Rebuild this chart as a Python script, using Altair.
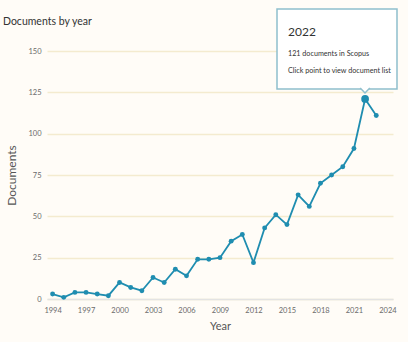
import altair as alt
import pandas as pd

years = list(range(1994, 2024))
docs = [3, 1, 4, 4, 3, 2, 10, 7, 5, 13, 10, 18, 14, 24, 24, 25, 35, 39, 22, 43,
        51, 45, 63, 56, 70, 75, 80, 91, 121, 111]
x_ticks = [1994, 1997, 2000, 2003, 2006, 2009, 2012, 2015, 2018, 2021, 2024]
y_ticks = [0, 25, 50, 75, 100, 125, 150]
chart_title = "Documents by year"
hover_year = 2022
hover_lines = ["2022", "121 documents in Scopus", "Click point to view document list"]

LINE = "#1f8db0"
FONT = "Lato"

df = pd.DataFrame({"year": years, "docs": docs})
one = pd.DataFrame({"k": [0]})

x_enc = alt.X("year:Q",
              scale=alt.Scale(domain=[1993.5, 2024.5], nice=False, zero=False),
              axis=alt.Axis(values=x_ticks, format="d", title="Year", grid=False,
                            ticks=False, labelPadding=7, domainColor="#e3e3e3",
                            domainWidth=1.5, labelFontSize=7.5, labelColor="#6b6b6b",
                            labelOverlap=False, labelFlush=False, labelBound=False,
                            labelFont=FONT, titleFont=FONT, titleFontSize=11,
                            titleFontWeight="normal", titleColor="#555",
                            titleBaseline="middle", titleX=173, titleY=27))
y_enc = alt.Y("docs:Q",
              scale=alt.Scale(domain=[0, 150], nice=False),
              axis=alt.Axis(values=y_ticks, title="Documents", ticks=False,
                            domain=False, labelPadding=6, gridColor="#f4ebcf",
                            gridWidth=1.5, labelFontSize=7.5, labelColor="#6b6b6b",
                            labelOverlap=False,
                            labelFont=FONT, titleFont=FONT, titleFontSize=12,
                            titleFontWeight="normal", titleColor="#555",
                            titleAngle=-90, titleAlign="center",
                            titleBaseline="middle", titleX=-36, titleY=124))

base = alt.Chart(df).encode(x=x_enc, y=y_enc)
line = base.mark_line(color=LINE, strokeWidth=1.8)
pts = base.mark_point(filled=True, color=LINE, size=24, opacity=1)
hover_pt = base.mark_point(filled=True, color=LINE, size=60, opacity=1).transform_filter(
    alt.datum.year == hover_year)

box = alt.Chart(one).mark_rect(fill="white", stroke="#8fbfcd", strokeWidth=1.5).encode(
    x=alt.value(230), x2=alt.value(350), y=alt.value(-42), y2=alt.value(38))
notch = alt.Chart(one).mark_point(
    shape="M-1.2,-1.25L0,0L1.2,-1.25", fill="white", fillOpacity=1,
    stroke="#8fbfcd", strokeWidth=1.5, size=64, opacity=1).encode(
    x=alt.value(318), y=alt.value(42))

t1 = alt.Chart(one).mark_text(text=hover_lines[0], align="left", baseline="alphabetic",
                              font=FONT, fontSize=12, color="#333").encode(
    x=alt.value(241), y=alt.value(-15))
t2 = alt.Chart(one).mark_text(text=hover_lines[1], align="left", baseline="alphabetic",
                              font=FONT, fontSize=7.2, color="#333").encode(
    x=alt.value(241), y=alt.value(5))
t3 = alt.Chart(one).mark_text(text=hover_lines[2], align="left", baseline="alphabetic",
                              font=FONT, fontSize=7.2, color="#333").encode(
    x=alt.value(241), y=alt.value(22))
title = alt.Chart(one).mark_text(text=chart_title, align="left", baseline="alphabetic",
                                 font=FONT, fontSize=10.5, color="#333").encode(
    x=alt.value(-44), y=alt.value(-26))

chart = alt.layer(line, pts, hover_pt, box, notch, t1, t2, t3, title).properties(
    width=346, height=248,
    padding={"left": 47, "top": 51, "right": 15, "bottom": 43},
    autosize=alt.AutoSizeParams(type="none"),
).configure(background="#fffcf7").configure_view(stroke=None).configure_axis(
    labelOverlap=False)

chart.save("out.html", embed_options={"renderer": "svg", "actions": False})
